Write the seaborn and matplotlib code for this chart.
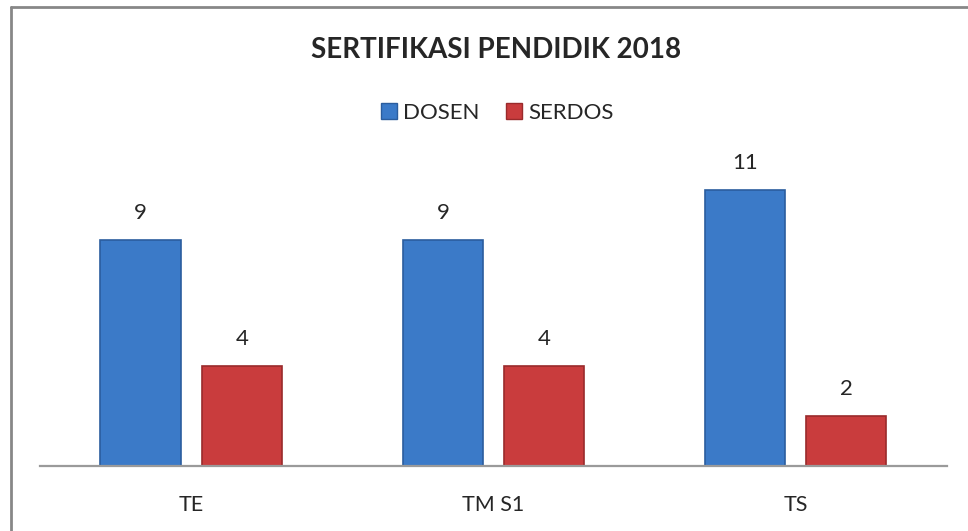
import matplotlib
matplotlib.use("Agg")
from matplotlib import pyplot as plt
from matplotlib.lines import Line2D
import seaborn as sns
import pandas as pd

prodi = ["TE", "TM S1", "TS"]
dosen = [9, 9, 11]
serdos = [4, 4, 2]
series = ["DOSEN", "SERDOS"]
colors = ["#3b7ac8", "#c93c3d"]
edges = ["#2b5d9e", "#9a2a2b"]


def main():
    df = pd.DataFrame({
        "prodi": prodi * 2,
        "jumlah": dosen + serdos,
        "seri": [series[0]] * len(prodi) + [series[1]] * len(prodi),
    })

    sns.set_style("white")
    plt.rcParams["font.family"] = ["Lato", "DejaVu Sans"]

    fig = plt.figure(figsize=(9.68, 5.31), dpi=100)
    ax = fig.add_axes([0.0413, 0.1224, 0.937, 0.5672])

    sns.barplot(data=df, x="prodi", y="jumlah", hue="seri", palette=colors,
                width=0.67, gap=0.21, ax=ax, legend=False, saturation=1)

    # darker outline to hint at the bevel look
    for cont, ec in zip(ax.containers, edges):
        for bar in cont:
            bar.set_edgecolor(ec)
            bar.set_linewidth(1.2)
        ax.bar_label(cont, padding=12, fontsize=16)

    ax.set_ylim(0, 12)
    ax.set_xlim(-0.5, 2.5)
    ax.set_xlabel("")
    ax.set_ylabel("")
    ax.set_yticks([])
    ax.tick_params(axis="x", length=0, labelsize=15.5, pad=21)
    for s in ["top", "right", "left"]:
        ax.spines[s].set_visible(False)
    ax.spines["bottom"].set_color("#9a9a9a")
    ax.spines["bottom"].set_linewidth(1.6)

    fig.text(0.512, 0.905, "SERTIFIKASI PENDIDIK 2018", ha="center", va="center",
             fontsize=20, fontweight="bold")

    handles = [plt.Rectangle((0, 0), 1, 1, facecolor=c, edgecolor=e)
               for c, e in zip(colors, edges)]
    fig.legend(handles, series, loc="center", bbox_to_anchor=(0.514, 0.788),
               ncol=2, frameon=False, fontsize=16, handlelength=0.7,
               handleheight=0.7, handletextpad=0.3, columnspacing=1.2)

    # chart frame (left and top edges only visible)
    fig.add_artist(Line2D([0.0114, 0.0114], [0.0, 0.987], color="#878787", lw=2))
    fig.add_artist(Line2D([0.0114, 1.0], [0.987, 0.987], color="#878787", lw=2))

    fig.savefig("out.png", dpi=100)


if __name__ == "__main__":
    main()
